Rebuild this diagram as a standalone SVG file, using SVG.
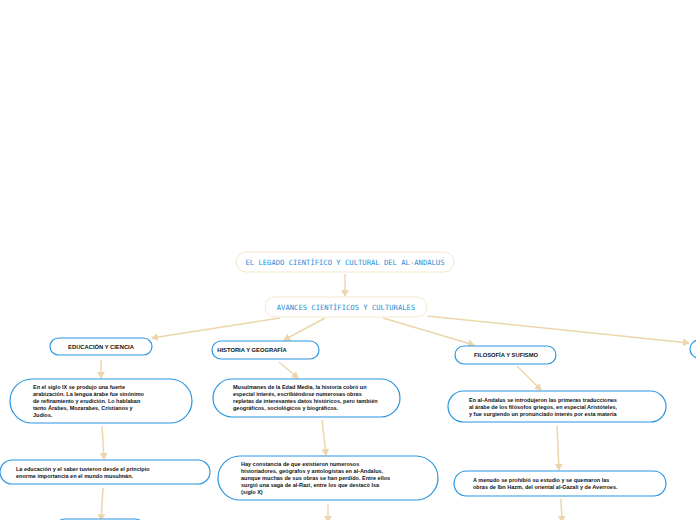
<svg xmlns="http://www.w3.org/2000/svg" width="696" height="520" viewBox="0 0 696 520">
<style>
.t{fill:#fff;stroke:#f5e8cc;stroke-width:1}
.n{fill:#fff;stroke:#2a96e0;stroke-width:1.2}
.tt{font-family:"DejaVu Sans Mono",monospace;font-size:7.2px;fill:#2a8fd6;text-anchor:middle}
.h{font-family:"Liberation Sans",Arial,sans-serif;font-size:5.8px;font-weight:bold;fill:#111;text-anchor:middle}
.b{font-family:"Liberation Sans",Arial,sans-serif;font-size:5.5px;font-weight:bold;fill:#111}
.c{stroke:#ecd7ac;stroke-width:1.5;fill:none;marker-end:url(#a)}
</style>
<defs><marker id="a" markerWidth="8" markerHeight="8" refX="6" refY="4" orient="auto" markerUnits="userSpaceOnUse"><path d="M0,0L7,4L0,8z" fill="#ecd7ac"/></marker></defs>
<rect width="696" height="520" fill="#fff"/>
<g id="connectors">
<path class="c" d="M345,274L345,296"/>
<path class="c" d="M280,318L152,338"/>
<path class="c" d="M325,318L284,340"/>
<path class="c" d="M383,318L474,345"/>
<path class="c" d="M427,316L689,343"/>
<path class="c" d="M101,360L101,378"/>
<path class="c" d="M102,426L104,459"/>
<path class="c" d="M103,488L101,520"/>
<path class="c" d="M279,362L298,378"/>
<path class="c" d="M322,420L326,455"/>
<path class="c" d="M328,504L328,522"/>
<path class="c" d="M517,366L541,390"/>
<path class="c" d="M557,426L559,470"/>
<path class="c" d="M561,499L562,522"/>
</g>
<g id="title"><rect class="t" x="236" y="252" width="218" height="20" rx="10"/><text class="tt" x="345" y="264.5">EL LEGADO CIENTÍFICO Y CULTURAL DEL AL-ANDALUS</text></g>
<g id="avances"><rect class="t" x="265" y="297" width="162" height="20" rx="10"/><text class="tt" x="346" y="309.5">AVANCES CIENTÍFICOS Y CULTURALES</text></g>
<g id="educacion"><rect class="n" x="50" y="338" width="102" height="17" rx="8.5"/><text class="h" x="101" y="348.5">EDUCACIÓN Y CIENCIA</text></g>
<g id="historia"><rect class="n" x="212" y="341" width="107" height="18" rx="9"/><text class="h" x="252" y="352" text-anchor="middle">HISTORIA Y GEOGRAFÍA</text></g>
<g id="filosofia"><rect class="n" x="455" y="346" width="101" height="18" rx="9"/><text class="h" x="506" y="357">FILOSOFÍA Y SUFISMO</text></g>
<g id="right"><rect class="n" x="690" y="340" width="20" height="18" rx="9"/></g>
<g id="edu1"><rect class="n" x="10" y="379" width="182" height="44" rx="22"/><text class="b" x="33" y="389"><tspan x="33">En el siglo IX se produjo una fuerte</tspan><tspan x="33" dy="6.9">arabización. La lengua árabe fue sinónimo</tspan><tspan x="33" dy="6.9">de refinamiento y erudición. Lo hablaban</tspan><tspan x="33" dy="6.9">tanto Árabes, Mozarabes, Cristianos y</tspan><tspan x="33" dy="6.9">Judíos.</tspan></text></g>
<g id="edu2"><rect class="n" x="0" y="460" width="210" height="24" rx="12"/><text class="b" x="16" y="471"><tspan x="16">La educación y el saber tuvieron desde el principio</tspan><tspan x="16" dy="6.9">enorme importancia en el mundo musulmán.</tspan></text></g>
<g id="edu3"><rect class="n" x="55" y="519" width="90" height="20" rx="10"/></g>
<g id="his1"><rect class="n" x="213" y="379" width="187" height="38" rx="19"/><text class="b" x="233" y="389"><tspan x="233">Musulmanes de la Edad Media, la historia cobró un</tspan><tspan x="233" dy="6.9">especial interés, escribiéndose numerosas obras</tspan><tspan x="233" dy="6.9">repletas de interesantes datos históricos, pero también</tspan><tspan x="233" dy="6.9">geográficos, sociológicos y biográficos.</tspan></text></g>
<g id="his2"><rect class="n" x="218" y="456" width="220" height="44" rx="22"/><text class="b" x="241" y="466"><tspan x="241">Hay constancia de que existieron numerosos</tspan><tspan x="241" dy="6.9">historiadores, geógrafos y antologistas en al-Andalus,</tspan><tspan x="241" dy="6.9">aunque muchas de sus obras se han perdido. Entre ellos</tspan><tspan x="241" dy="6.9">surgió una saga de al-Razi, entre los que destacó Isa</tspan><tspan x="241" dy="6.9">(siglo X)</tspan></text></g>
<g id="fil1"><rect class="n" x="448" y="391" width="218" height="31" rx="15.5"/><text class="b" x="469" y="402"><tspan x="469">En al-Andalus se introdujeron las primeras traducciones</tspan><tspan x="469" dy="6.9">al árabe de los filósofos griegos, en especial Aristóteles,</tspan><tspan x="469" dy="6.9">y fue surgiendo un pronunciado interés por esta materia</tspan></text></g>
<g id="fil2"><rect class="n" x="454" y="471" width="212" height="25" rx="12.5"/><text class="b" x="473" y="482"><tspan x="473">A menudo se prohibió su estudio y se quemaron las</tspan><tspan x="473" dy="6.9">obras de Ibn Hazm, del oriental al-Gazali y de Averroes.</tspan></text></g>
</svg>
